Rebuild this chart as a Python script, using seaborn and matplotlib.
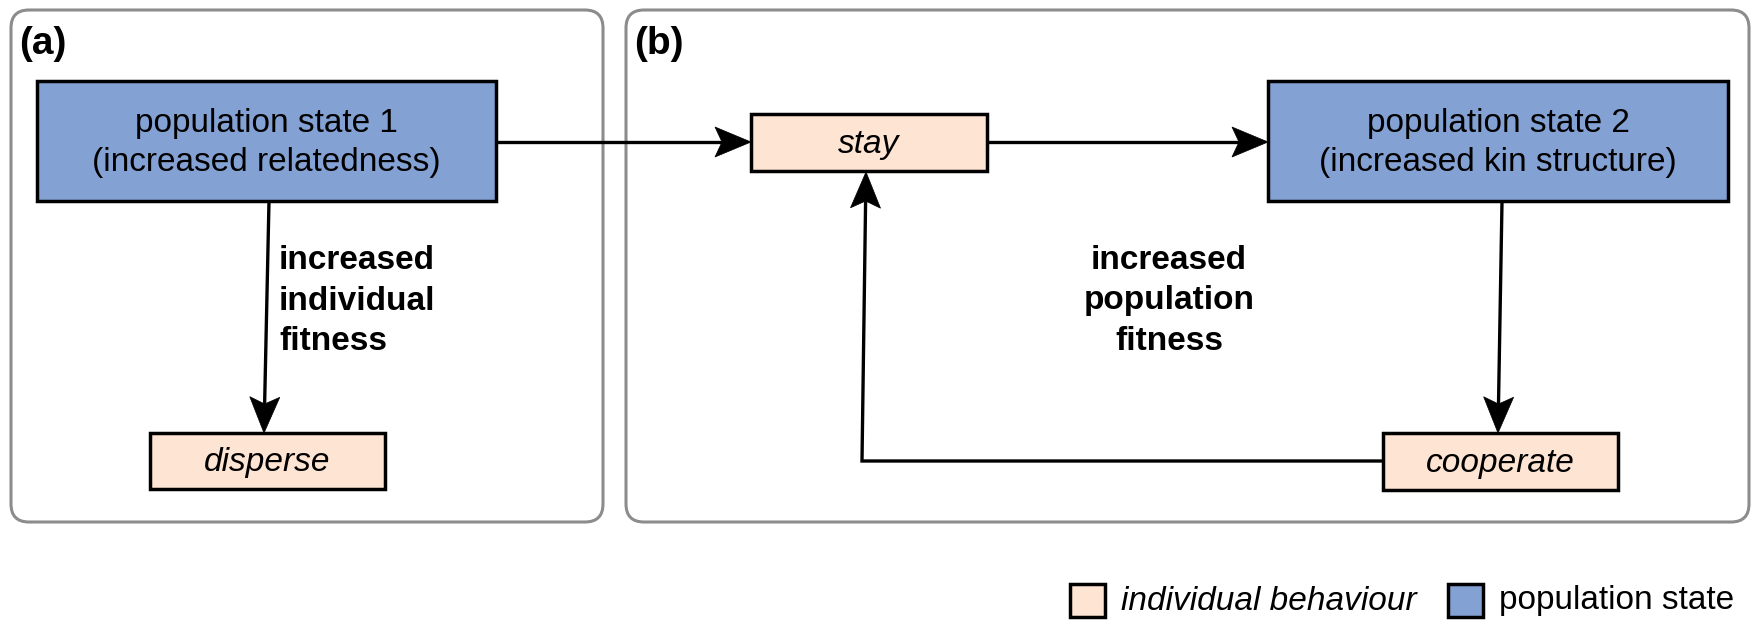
import numpy as np
import matplotlib
matplotlib.use("Agg")
import matplotlib.pyplot as plt
import seaborn as sns
from matplotlib.patches import Rectangle, FancyBboxPatch, Polygon

# --- content ---
panel_labels = ["(a)", "(b)"]
node_names = ["pop1", "disperse", "stay", "pop2", "cooperate"]
node_labels = ["population state 1\n(increased relatedness)", "disperse", "stay",
               "population state 2\n(increased kin structure)", "cooperate"]
node_kinds = ["population", "behaviour", "behaviour", "population", "behaviour"]
edges = [("pop1", "disperse"), ("pop1", "stay"), ("stay", "pop2"),
         ("pop2", "cooperate"), ("cooperate", "stay")]
effect_labels = ["increased\nindividual\nfitness", "increased\npopulation\nfitness"]
legend_labels = ["individual behaviour", "population state"]
legend_kinds = ["behaviour", "population"]

# --- layout (pixel space, y down) ---
panels = [(11, 10, 603, 522), (626, 10, 1749, 522)]
boxes = {
    "pop1": (37, 81, 496, 201),
    "disperse": (150, 433, 385, 489),
    "stay": (751, 114, 987, 171),
    "pop2": (1268, 81, 1728, 201),
    "cooperate": (1383, 433, 1618, 490),
}
paths = {
    ("pop1", "disperse"): [(269, 201), (264, 433)],
    ("pop1", "stay"): [(496, 142), (751, 142)],
    ("stay", "pop2"): [(987, 142), (1268, 142)],
    ("pop2", "cooperate"): [(1502, 202), (1498, 433)],
    ("cooperate", "stay"): [(1383, 461), (862, 461), (866, 172)],
}
effect_pos = [(279, 301, "left"), (1169, 301, "center")]
colors = {"population": "#84a1d4", "behaviour": "#fde4d3"}

sns.set_theme(style="white")
plt.rcParams["font.family"] = ["Liberation Sans", "DejaVu Sans"]
plt.rcParams["text.color"] = "black"

fig = plt.figure(figsize=(17.52, 6.2), dpi=100)
ax = fig.add_axes([0, 0, 1, 1])
ax.set_xlim(0, 1752)
ax.set_ylim(620, 0)
ax.axis("off")

for (x0, y0, x1, y1), lab in zip(panels, panel_labels):
    ax.add_patch(FancyBboxPatch((x0, y0), x1 - x0, y1 - y0,
                                boxstyle="round,pad=0,rounding_size=18",
                                fc="white", ec="#8c8c8c", lw=2.2))
    ax.text(x0 + 8, y0 + 34, lab, fontsize=28, fontweight="bold",
            ha="left", va="center", color="black")


def arrow(pts):
    pts = np.array(pts, dtype=float)
    tip = pts[-1]
    d = tip - pts[-2]
    d /= np.hypot(*d)
    n = np.array([-d[1], d[0]])
    L, W, notch = 36, 15, 29
    line = np.vstack([pts[:-1], tip - d * notch])
    ax.plot(line[:, 0], line[:, 1], color="black", lw=2.4,
            solid_capstyle="butt", solid_joinstyle="miter", zorder=2)
    head = [tip, tip - d * L + n * W, tip - d * notch, tip - d * L - n * W]
    ax.add_patch(Polygon(head, closed=True, fc="black", ec="black", lw=0.5, zorder=3))


for e in edges:
    arrow(paths[e])

for name, lab, kind in zip(node_names, node_labels, node_kinds):
    x0, y0, x1, y1 = boxes[name]
    ax.add_patch(Rectangle((x0, y0), x1 - x0, y1 - y0, fc=colors[kind],
                           ec="black", lw=2.5, zorder=4))
    style = "italic" if kind == "behaviour" else "normal"
    ax.text((x0 + x1) / 2, (y0 + y1) / 2 + 2, lab, fontsize=24, style=style,
            ha="center", va="center", linespacing=1.3, zorder=5, color="black")

for (x, y, al), lab in zip(effect_pos, effect_labels):
    ax.text(x, y, lab, fontsize=24, fontweight="bold", ha=al, va="center",
            multialignment=al, linespacing=1.4, color="black")

# legend
leg_x = [1070, 1448]
for x, lab, kind in zip(leg_x, legend_labels, legend_kinds):
    ax.add_patch(Rectangle((x, 584), 35, 33, fc=colors[kind], ec="black", lw=2.5))
    style = "italic" if kind == "behaviour" else "normal"
    ax.text(x + 51, 601, lab, fontsize=24, style=style, ha="left", va="center",
            color="black")

fig.savefig("out.png", dpi=100)
